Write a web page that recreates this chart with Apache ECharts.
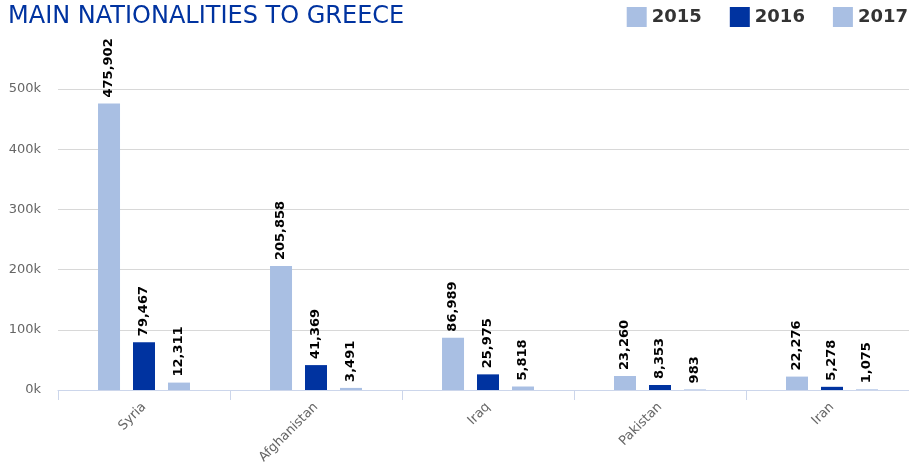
<!DOCTYPE html>
<html>
<head>
<meta charset="utf-8">
<script src="https://cdn.jsdelivr.net/npm/echarts@6/dist/echarts.min.js"></script>
<style>
html, body { margin: 0; padding: 0; background: #fff; }
#chart { width: 909px; height: 465px; }
</style>
</head>
<body>
<div id="chart"></div>
<script>
var countries = ['Syria', 'Afghanistan', 'Iraq', 'Pakistan', 'Iran'];
var years = ['2015', '2016', '2017'];
var values2015 = [475902, 205858, 86989, 23260, 22276];
var values2016 = [79467, 41369, 25975, 8353, 5278];
var values2017 = [12311, 3491, 5818, 983, 1075];
var yTicks = [0, 100000, 200000, 300000, 400000, 500000];

var colors = ['#a9bfe3', '#0033a0', '#a9bfe3'];
var font = 'DejaVu Sans';

function makeSeries(name, data, color) {
    return {
        name: name,
        type: 'bar',
        data: data,
        barWidth: 22,
        barGap: '59%',
        itemStyle: { color: color },
        label: {
            show: true,
            position: 'top',
            rotate: 90,
            align: 'left',
            verticalAlign: 'middle',
            distance: 6,
            color: '#000',
            fontWeight: 'bold',
            fontSize: 13,
            fontFamily: font,
            formatter: function (p) {
                return p.value.toLocaleString('en-US');
            }
        }
    };
}

var option = {
    animation: false,
    textStyle: { fontFamily: font },
    title: {
        text: 'MAIN NATIONALITIES TO GREECE',
        left: 3,
        top: 0,
        textStyle: {
            color: '#0033a0',
            fontSize: 24,
            fontWeight: 'normal',
            fontFamily: font
        }
    },
    legend: {
        right: 0,
        top: 2,
        padding: [5, 1, 5, 5],
        itemWidth: 20,
        itemHeight: 20,
        itemGap: 28,
        icon: 'rect',
        data: years,
        textStyle: {
            color: '#333',
            fontSize: 18,
            fontWeight: 'bold',
            fontFamily: font
        }
    },
    grid: {
        left: 58,
        width: 860,
        top: 89,
        bottom: 75,
        outerBoundsMode: 'none'
    },
    xAxis: {
        type: 'category',
        data: countries,
        axisLine: { lineStyle: { color: '#ccd6eb' } },
        axisTick: { show: true, length: 10, lineStyle: { color: '#ccd6eb' } },
        axisLabel: {
            rotate: 45,
            margin: 15,
            color: '#666',
            fontSize: 13,
            fontFamily: font
        }
    },
    yAxis: {
        type: 'value',
        min: yTicks[0],
        max: yTicks[yTicks.length - 1],
        interval: 100000,
        axisLine: { show: false },
        axisTick: { show: false },
        splitLine: { lineStyle: { color: '#d8d8d8' } },
        axisLabel: {
            margin: 17,
            color: '#666',
            fontSize: 13,
            fontFamily: font,
            formatter: function (v) { return (v / 1000) + 'k'; }
        }
    },
    series: [
        makeSeries(years[0], values2015, colors[0]),
        makeSeries(years[1], values2016, colors[1]),
        makeSeries(years[2], values2017, colors[2])
    ]
};

var chart = echarts.init(document.getElementById('chart'));
chart.setOption(option);
</script>
</body>
</html>
